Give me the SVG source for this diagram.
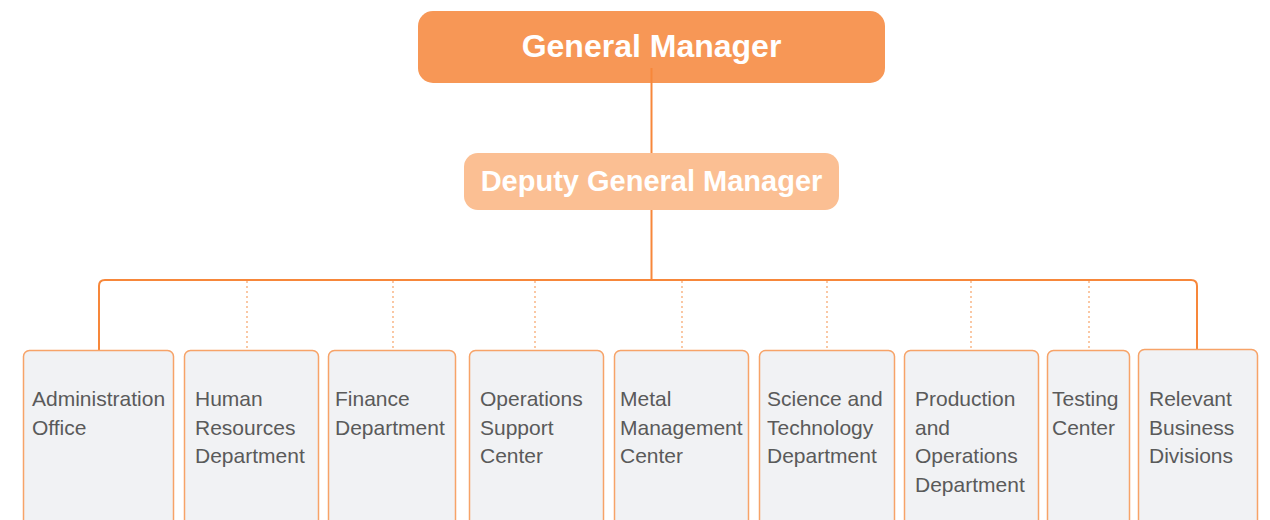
<svg xmlns="http://www.w3.org/2000/svg" width="1270" height="520" viewBox="0 0 1270 520">
  <style>
    .top { fill: #F79756; }
    .deputy { fill: #FBBF93; }
    .head { font-family: "Liberation Sans", Arial, sans-serif; font-weight: bold; fill: #FFFFFF; text-anchor: middle; }
    .dept { fill: #F1F2F4; stroke: #F7A368; stroke-width: 1.5; }
    .label { font-family: "Liberation Sans", Arial, sans-serif; font-size: 21px; fill: #5A5A5A; }
    .solid { fill: none; stroke: #F7873A; stroke-width: 2; }
    .dotted { fill: none; stroke: #F7A368; stroke-width: 1.2; stroke-dasharray: 2 3; }
  </style>

  <!-- top-level nodes -->
  <g id="general-manager">
    <rect class="top" x="418" y="11" width="467" height="72" rx="15"/>
    <text class="head" x="651.5" y="57" font-size="32">General Manager</text>
  </g>

  <g id="connectors">
    <line class="solid" x1="651.5" y1="68" x2="651.5" y2="153"/>
    <line class="solid" x1="651.5" y1="210" x2="651.5" y2="280"/>
    <path class="solid" d="M99 350 V286 Q99 280 105 280 H1191 Q1197 280 1197 286 V350"/>
    <line class="dotted" x1="247" y1="281" x2="247" y2="350"/>
    <line class="dotted" x1="393" y1="281" x2="393" y2="350"/>
    <line class="dotted" x1="535" y1="281" x2="535" y2="350"/>
    <line class="dotted" x1="682" y1="281" x2="682" y2="350"/>
    <line class="dotted" x1="827" y1="281" x2="827" y2="350"/>
    <line class="dotted" x1="971" y1="281" x2="971" y2="350"/>
    <line class="dotted" x1="1089" y1="281" x2="1089" y2="350"/>
  </g>

  <g id="deputy-general-manager">
    <rect class="deputy" x="464" y="153" width="375" height="57" rx="14"/>
    <text class="head" x="651.5" y="191" font-size="29">Deputy General Manager</text>
  </g>

  <!-- departments -->
  <g id="administration-office">
    <rect class="dept" x="23.5" y="350.5" width="150" height="180" rx="6"/>
    <text class="label" x="32" y="406">Administration</text>
    <text class="label" x="32" y="434.5">Office</text>
  </g>
  <g id="human-resources">
    <rect class="dept" x="184.5" y="350.5" width="134" height="180" rx="6"/>
    <text class="label" x="195" y="406">Human</text>
    <text class="label" x="195" y="434.5">Resources</text>
    <text class="label" x="195" y="463">Department</text>
  </g>
  <g id="finance">
    <rect class="dept" x="328.5" y="350.5" width="127" height="180" rx="6"/>
    <text class="label" x="335" y="406">Finance</text>
    <text class="label" x="335" y="434.5">Department</text>
  </g>
  <g id="operations-support">
    <rect class="dept" x="469.5" y="350.5" width="134" height="180" rx="6"/>
    <text class="label" x="480" y="406">Operations</text>
    <text class="label" x="480" y="434.5">Support</text>
    <text class="label" x="480" y="463">Center</text>
  </g>
  <g id="metal-management">
    <rect class="dept" x="614.5" y="350.5" width="134" height="180" rx="6"/>
    <text class="label" x="620" y="406">Metal</text>
    <text class="label" x="620" y="434.5">Management</text>
    <text class="label" x="620" y="463">Center</text>
  </g>
  <g id="science-technology">
    <rect class="dept" x="759.5" y="350.5" width="135" height="180" rx="6"/>
    <text class="label" x="767" y="406">Science and</text>
    <text class="label" x="767" y="434.5">Technology</text>
    <text class="label" x="767" y="463">Department</text>
  </g>
  <g id="production-operations">
    <rect class="dept" x="904.5" y="350.5" width="134" height="180" rx="6"/>
    <text class="label" x="915" y="406">Production</text>
    <text class="label" x="915" y="434.5">and</text>
    <text class="label" x="915" y="463">Operations</text>
    <text class="label" x="915" y="492">Department</text>
  </g>
  <g id="testing-center">
    <rect class="dept" x="1047.5" y="350.5" width="82" height="180" rx="6"/>
    <text class="label" x="1052" y="406">Testing</text>
    <text class="label" x="1052" y="434.5">Center</text>
  </g>
  <g id="business-divisions">
    <rect class="dept" x="1138.5" y="349.5" width="119" height="181" rx="6"/>
    <text class="label" x="1149" y="406">Relevant</text>
    <text class="label" x="1149" y="434.5">Business</text>
    <text class="label" x="1149" y="463">Divisions</text>
  </g>
</svg>
